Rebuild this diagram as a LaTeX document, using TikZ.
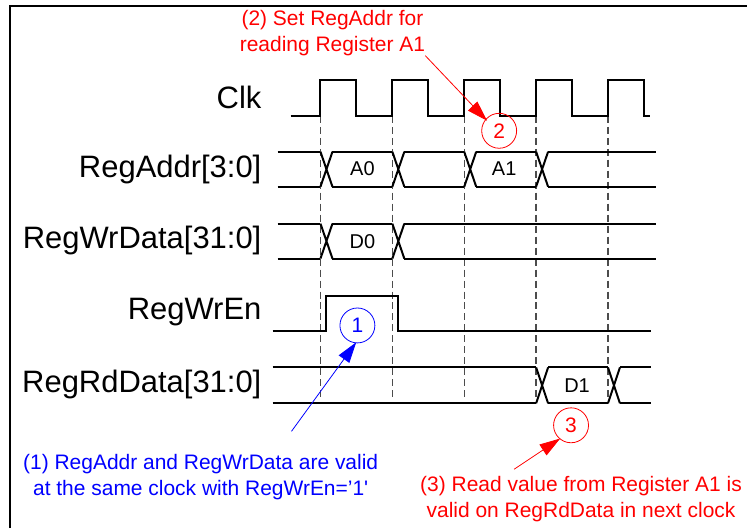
\documentclass[tikz,border=0pt]{standalone}
\usepackage{fontspec}
\setmainfont{Liberation Sans}
\definecolor{notered}{RGB}{255,0,0}
\definecolor{noteblue}{RGB}{0,0,255}

\begin{document}
\begin{tikzpicture}[x=1pt, y=-1pt,
				sig/.style={line width=2pt, line join=miter},
				edgeline/.style={gray!60!black, line width=1.4pt, dash pattern=on 7pt off 4pt},
				siglabel/.style={anchor=east, inner sep=0pt, font=\fontsize{31}{36}\selectfont},
				busval/.style={inner sep=0pt, font=\fontsize{20}{24}\selectfont},
				numcircle/.style={circle, draw, line width=0.8pt, minimum size=35pt, inner sep=0pt, font=\fontsize{21}{24}\selectfont},
				textnote/.style={align=center, inner sep=0pt, font=\fontsize{21}{25.5}\selectfont},
				notearrow/.style={line width=0.8pt},
				notehead/.style={line width=0.8pt, line join=miter}]
				% Bildbereich
				\path (0,0) rectangle (748,529);
				% Rahmen
				\draw[line width=2.5pt] (10,529) -- (10,6) -- (748,6);
				% Pfeilspitzen
				\coordinate (t2) at (487,120);
				\coordinate (t1) at (356,344);
				\coordinate (t3) at (560,440);
				\filldraw[notehead, notered] (t2) -- (478,102.3) -- (469.4,110.7) -- cycle;
				\filldraw[notehead, noteblue] (t1) -- (349.7,362.9) -- (339.9,355.9) -- cycle;
				\filldraw[notehead, notered] (t3) -- (547.5,455.5) -- (540.9,445.5) -- cycle;
				% Taktflanken
				\foreach \x in {321,393,465,537,609} \draw[edgeline] (\x,116) -- (\x,400);
				% Signalnamen
				\node[siglabel] (clk) at (262,98) {Clk};
				\node[siglabel] (addr) at (262,170) {RegAddr[3:0]};
				\node[siglabel] (wrdata) at (262,241) {RegWrData[31:0]};
				\node[siglabel] (wren) at (262,313) {RegWrEn};
				\node[siglabel] (rddata) at (262,385) {RegRdData[31:0]};
				% Clk
				\draw[sig] (291,116) \foreach \x in {321,393,465,537,609} { -- (\x,116) -- (\x,80) -- (\x+36,80) -- (\x+36,116)} -- (651,116);
				% RegAddr
				\foreach \a/\b in {278/321,333/393,405/465,477/537,549/657} \draw[sig] (\a,152) -- (\b,152) (\a,187) -- (\b,187);
				\foreach \x in {321,393,465,537} \draw[sig] (\x,152) -- (\x+12,187) (\x,187) -- (\x+12,152);
				\node[busval] (a0) at (363,169) {A0};
				\node[busval] (a1) at (505,169) {A1};
				% RegWrData
				\foreach \a/\b in {278/321,333/393,405/657} \draw[sig] (\a,224) -- (\b,224) (\a,259) -- (\b,259);
				\foreach \x in {321,393} \draw[sig] (\x,224) -- (\x+12,259) (\x,259) -- (\x+12,224);
				\node[busval] (d0) at (363,242) {D0};
				% RegWrEn
				\draw[sig] (273,332) -- (327,332) -- (327,296) -- (399,296) -- (399,332) -- (652,332);
				% RegRdData
				\foreach \a/\b in {273/537,549/609,621/652} \draw[sig] (\a,368) -- (\b,368) (\a,404) -- (\b,404);
				\foreach \x in {537,609} \draw[sig] (\x,368) -- (\x+12,404) (\x,404) -- (\x+12,368);
				\node[busval] (d1) at (578,386) {D1};
				% Markierungen
				\node[numcircle, notered] (c2) at (500,131) {2};
				\node[numcircle, noteblue] (c1) at (358,326) {1};
				\node[numcircle, notered] (c3) at (572,426) {3};
				%Beschriftung
				\node[textnote, notered] (n2) at (333,33) {(2) Set RegAddr for\\reading Register A1};
				\node[textnote, noteblue] (n1) at (201,478) {(1) RegAddr and RegWrData are valid\\at the same clock with RegWrEn=’1\textquotesingle};
				\node[textnote, notered] (n3) at (582,500) {(3) Read value from Register A1 is\\valid on RegRdData in next clock};
				% Pfeile
				\coordinate (b1) at (292,432);
				\coordinate (r3) at (515,470);
				\draw[notearrow, notered] (n2.south east) -- (t2);
				\draw[notearrow, noteblue] (b1) -- (t1);
				\draw[notearrow, notered] (r3) -- (t3);
			\end{tikzpicture}
\end{document}
